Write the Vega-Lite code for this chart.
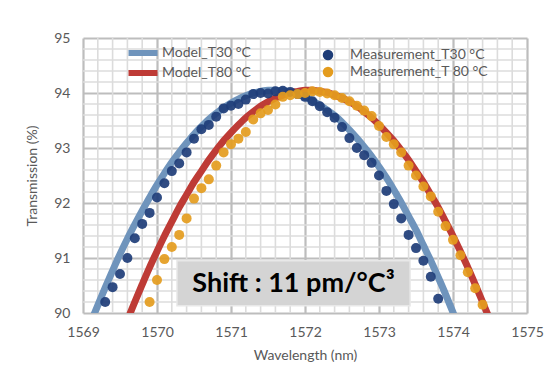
{
  "$schema": "https://vega.github.io/schema/vega-lite/v6.json",
  "width": 444,
  "height": 275,
  "autosize": {"type": "none"},
  "padding": {"left": 83, "top": 38, "right": 28, "bottom": 60},
  "background": "white",
  "config": {
    "font": "Lato",
    "view": {"stroke": null},
    "axis": {"labelFont": "Lato", "titleFont": "Lato", "labelColor": "#595959", "titleColor": "#595959", "labelFontSize": 14, "titleFontSize": 14, "titleFontWeight": "normal"}
  },
  "datasets": {
    "gridx": [
      {"v": 1569.2}, {"v": 1569.4}, {"v": 1569.6}, {"v": 1569.8},
      {"v": 1570.2}, {"v": 1570.4}, {"v": 1570.6}, {"v": 1570.8},
      {"v": 1571.2}, {"v": 1571.4}, {"v": 1571.6}, {"v": 1571.8},
      {"v": 1572.2}, {"v": 1572.4}, {"v": 1572.6}, {"v": 1572.8},
      {"v": 1573.2}, {"v": 1573.4}, {"v": 1573.6}, {"v": 1573.8},
      {"v": 1574.2}, {"v": 1574.4}, {"v": 1574.6}, {"v": 1574.8}
    ],
    "gridy": [
      {"v": 90.2}, {"v": 90.4}, {"v": 90.6}, {"v": 90.8},
      {"v": 91.2}, {"v": 91.4}, {"v": 91.6}, {"v": 91.8},
      {"v": 92.2}, {"v": 92.4}, {"v": 92.6}, {"v": 92.8},
      {"v": 93.2}, {"v": 93.4}, {"v": 93.6}, {"v": 93.8},
      {"v": 94.2}, {"v": 94.4}, {"v": 94.6}, {"v": 94.8}
    ],
    "model": [
      {"series": "Model_T30 °C", "wl": 1569.0, "t": 89.46},
      {"series": "Model_T30 °C", "wl": 1569.1, "t": 89.81},
      {"series": "Model_T30 °C", "wl": 1569.2, "t": 90.14},
      {"series": "Model_T30 °C", "wl": 1569.3, "t": 90.46},
      {"series": "Model_T30 °C", "wl": 1569.4, "t": 90.77},
      {"series": "Model_T30 °C", "wl": 1569.5, "t": 91.07},
      {"series": "Model_T30 °C", "wl": 1569.6, "t": 91.35},
      {"series": "Model_T30 °C", "wl": 1569.7, "t": 91.61},
      {"series": "Model_T30 °C", "wl": 1569.8, "t": 91.86},
      {"series": "Model_T30 °C", "wl": 1569.9, "t": 92.10},
      {"series": "Model_T30 °C", "wl": 1570.0, "t": 92.33},
      {"series": "Model_T30 °C", "wl": 1570.1, "t": 92.54},
      {"series": "Model_T30 °C", "wl": 1570.2, "t": 92.74},
      {"series": "Model_T30 °C", "wl": 1570.3, "t": 92.92},
      {"series": "Model_T30 °C", "wl": 1570.4, "t": 93.09},
      {"series": "Model_T30 °C", "wl": 1570.5, "t": 93.25},
      {"series": "Model_T30 °C", "wl": 1570.6, "t": 93.39},
      {"series": "Model_T30 °C", "wl": 1570.7, "t": 93.52},
      {"series": "Model_T30 °C", "wl": 1570.8, "t": 93.63},
      {"series": "Model_T30 °C", "wl": 1570.9, "t": 93.73},
      {"series": "Model_T30 °C", "wl": 1571.0, "t": 93.82},
      {"series": "Model_T30 °C", "wl": 1571.1, "t": 93.89},
      {"series": "Model_T30 °C", "wl": 1571.2, "t": 93.95},
      {"series": "Model_T30 °C", "wl": 1571.3, "t": 94.00},
      {"series": "Model_T30 °C", "wl": 1571.4, "t": 94.03},
      {"series": "Model_T30 °C", "wl": 1571.5, "t": 94.05},
      {"series": "Model_T30 °C", "wl": 1571.6, "t": 94.05},
      {"series": "Model_T30 °C", "wl": 1571.7, "t": 94.04},
      {"series": "Model_T30 °C", "wl": 1571.8, "t": 94.02},
      {"series": "Model_T30 °C", "wl": 1571.9, "t": 93.98},
      {"series": "Model_T30 °C", "wl": 1572.0, "t": 93.93},
      {"series": "Model_T30 °C", "wl": 1572.1, "t": 93.86},
      {"series": "Model_T30 °C", "wl": 1572.2, "t": 93.78},
      {"series": "Model_T30 °C", "wl": 1572.3, "t": 93.69},
      {"series": "Model_T30 °C", "wl": 1572.4, "t": 93.59},
      {"series": "Model_T30 °C", "wl": 1572.5, "t": 93.47},
      {"series": "Model_T30 °C", "wl": 1572.6, "t": 93.33},
      {"series": "Model_T30 °C", "wl": 1572.7, "t": 93.18},
      {"series": "Model_T30 °C", "wl": 1572.8, "t": 93.02},
      {"series": "Model_T30 °C", "wl": 1572.9, "t": 92.85},
      {"series": "Model_T30 °C", "wl": 1573.0, "t": 92.66},
      {"series": "Model_T30 °C", "wl": 1573.1, "t": 92.46},
      {"series": "Model_T30 °C", "wl": 1573.2, "t": 92.24},
      {"series": "Model_T30 °C", "wl": 1573.3, "t": 92.01},
      {"series": "Model_T30 °C", "wl": 1573.4, "t": 91.76},
      {"series": "Model_T30 °C", "wl": 1573.5, "t": 91.51},
      {"series": "Model_T30 °C", "wl": 1573.6, "t": 91.23},
      {"series": "Model_T30 °C", "wl": 1573.7, "t": 90.95},
      {"series": "Model_T30 °C", "wl": 1573.8, "t": 90.65},
      {"series": "Model_T30 °C", "wl": 1573.9, "t": 90.34},
      {"series": "Model_T30 °C", "wl": 1574.0, "t": 90.01},
      {"series": "Model_T30 °C", "wl": 1574.1, "t": 89.67},
      {"series": "Model_T80 °C", "wl": 1569.5, "t": 89.52},
      {"series": "Model_T80 °C", "wl": 1569.6, "t": 89.87},
      {"series": "Model_T80 °C", "wl": 1569.7, "t": 90.20},
      {"series": "Model_T80 °C", "wl": 1569.8, "t": 90.52},
      {"series": "Model_T80 °C", "wl": 1569.9, "t": 90.83},
      {"series": "Model_T80 °C", "wl": 1570.0, "t": 91.12},
      {"series": "Model_T80 °C", "wl": 1570.1, "t": 91.40},
      {"series": "Model_T80 °C", "wl": 1570.2, "t": 91.66},
      {"series": "Model_T80 °C", "wl": 1570.3, "t": 91.92},
      {"series": "Model_T80 °C", "wl": 1570.4, "t": 92.15},
      {"series": "Model_T80 °C", "wl": 1570.5, "t": 92.38},
      {"series": "Model_T80 °C", "wl": 1570.6, "t": 92.58},
      {"series": "Model_T80 °C", "wl": 1570.7, "t": 92.78},
      {"series": "Model_T80 °C", "wl": 1570.8, "t": 92.96},
      {"series": "Model_T80 °C", "wl": 1570.9, "t": 93.13},
      {"series": "Model_T80 °C", "wl": 1571.0, "t": 93.28},
      {"series": "Model_T80 °C", "wl": 1571.1, "t": 93.42},
      {"series": "Model_T80 °C", "wl": 1571.2, "t": 93.55},
      {"series": "Model_T80 °C", "wl": 1571.3, "t": 93.66},
      {"series": "Model_T80 °C", "wl": 1571.4, "t": 93.76},
      {"series": "Model_T80 °C", "wl": 1571.5, "t": 93.84},
      {"series": "Model_T80 °C", "wl": 1571.6, "t": 93.91},
      {"series": "Model_T80 °C", "wl": 1571.7, "t": 93.96},
      {"series": "Model_T80 °C", "wl": 1571.8, "t": 94.01},
      {"series": "Model_T80 °C", "wl": 1571.9, "t": 94.03},
      {"series": "Model_T80 °C", "wl": 1572.0, "t": 94.05},
      {"series": "Model_T80 °C", "wl": 1572.1, "t": 94.05},
      {"series": "Model_T80 °C", "wl": 1572.2, "t": 94.03},
      {"series": "Model_T80 °C", "wl": 1572.3, "t": 94.01},
      {"series": "Model_T80 °C", "wl": 1572.4, "t": 93.96},
      {"series": "Model_T80 °C", "wl": 1572.5, "t": 93.91},
      {"series": "Model_T80 °C", "wl": 1572.6, "t": 93.84},
      {"series": "Model_T80 °C", "wl": 1572.7, "t": 93.76},
      {"series": "Model_T80 °C", "wl": 1572.8, "t": 93.66},
      {"series": "Model_T80 °C", "wl": 1572.9, "t": 93.55},
      {"series": "Model_T80 °C", "wl": 1573.0, "t": 93.42},
      {"series": "Model_T80 °C", "wl": 1573.1, "t": 93.28},
      {"series": "Model_T80 °C", "wl": 1573.2, "t": 93.13},
      {"series": "Model_T80 °C", "wl": 1573.3, "t": 92.96},
      {"series": "Model_T80 °C", "wl": 1573.4, "t": 92.78},
      {"series": "Model_T80 °C", "wl": 1573.5, "t": 92.58},
      {"series": "Model_T80 °C", "wl": 1573.6, "t": 92.38},
      {"series": "Model_T80 °C", "wl": 1573.7, "t": 92.15},
      {"series": "Model_T80 °C", "wl": 1573.8, "t": 91.92},
      {"series": "Model_T80 °C", "wl": 1573.9, "t": 91.66},
      {"series": "Model_T80 °C", "wl": 1574.0, "t": 91.40},
      {"series": "Model_T80 °C", "wl": 1574.1, "t": 91.12},
      {"series": "Model_T80 °C", "wl": 1574.2, "t": 90.83},
      {"series": "Model_T80 °C", "wl": 1574.3, "t": 90.52},
      {"series": "Model_T80 °C", "wl": 1574.4, "t": 90.20},
      {"series": "Model_T80 °C", "wl": 1574.5, "t": 89.87},
      {"series": "Model_T80 °C", "wl": 1574.6, "t": 89.52}
    ],
    "meas": [
      {"series": "Measurement_T30 °C", "wl": 1569.3, "t": 90.2},
      {"series": "Measurement_T30 °C", "wl": 1569.4, "t": 90.47},
      {"series": "Measurement_T30 °C", "wl": 1569.5, "t": 90.71},
      {"series": "Measurement_T30 °C", "wl": 1569.6, "t": 91.0},
      {"series": "Measurement_T30 °C", "wl": 1569.7, "t": 91.36},
      {"series": "Measurement_T30 °C", "wl": 1569.8, "t": 91.62},
      {"series": "Measurement_T30 °C", "wl": 1569.9, "t": 91.82},
      {"series": "Measurement_T30 °C", "wl": 1570.0, "t": 92.1},
      {"series": "Measurement_T30 °C", "wl": 1570.1, "t": 92.36},
      {"series": "Measurement_T30 °C", "wl": 1570.2, "t": 92.58},
      {"series": "Measurement_T30 °C", "wl": 1570.3, "t": 92.72},
      {"series": "Measurement_T30 °C", "wl": 1570.4, "t": 92.92},
      {"series": "Measurement_T30 °C", "wl": 1570.5, "t": 93.17},
      {"series": "Measurement_T30 °C", "wl": 1570.6, "t": 93.34},
      {"series": "Measurement_T30 °C", "wl": 1570.7, "t": 93.42},
      {"series": "Measurement_T30 °C", "wl": 1570.8, "t": 93.57},
      {"series": "Measurement_T30 °C", "wl": 1570.9, "t": 93.72},
      {"series": "Measurement_T30 °C", "wl": 1571.0, "t": 93.77},
      {"series": "Measurement_T30 °C", "wl": 1571.1, "t": 93.80},
      {"series": "Measurement_T30 °C", "wl": 1571.2, "t": 93.88},
      {"series": "Measurement_T30 °C", "wl": 1571.3, "t": 93.98},
      {"series": "Measurement_T30 °C", "wl": 1571.4, "t": 94.0},
      {"series": "Measurement_T30 °C", "wl": 1571.5, "t": 93.99},
      {"series": "Measurement_T30 °C", "wl": 1571.6, "t": 94.03},
      {"series": "Measurement_T30 °C", "wl": 1571.7, "t": 94.04},
      {"series": "Measurement_T30 °C", "wl": 1571.8, "t": 94.02},
      {"series": "Measurement_T30 °C", "wl": 1571.9, "t": 93.98},
      {"series": "Measurement_T30 °C", "wl": 1572.0, "t": 93.93},
      {"series": "Measurement_T30 °C", "wl": 1572.1, "t": 93.85},
      {"series": "Measurement_T30 °C", "wl": 1572.2, "t": 93.76},
      {"series": "Measurement_T30 °C", "wl": 1572.3, "t": 93.65},
      {"series": "Measurement_T30 °C", "wl": 1572.4, "t": 93.55},
      {"series": "Measurement_T30 °C", "wl": 1572.5, "t": 93.38},
      {"series": "Measurement_T30 °C", "wl": 1572.6, "t": 93.18},
      {"series": "Measurement_T30 °C", "wl": 1572.7, "t": 93.0},
      {"series": "Measurement_T30 °C", "wl": 1572.8, "t": 92.87},
      {"series": "Measurement_T30 °C", "wl": 1572.9, "t": 92.73},
      {"series": "Measurement_T30 °C", "wl": 1573.0, "t": 92.5},
      {"series": "Measurement_T30 °C", "wl": 1573.1, "t": 92.22},
      {"series": "Measurement_T30 °C", "wl": 1573.2, "t": 91.98},
      {"series": "Measurement_T30 °C", "wl": 1573.3, "t": 91.72},
      {"series": "Measurement_T30 °C", "wl": 1573.4, "t": 91.42},
      {"series": "Measurement_T30 °C", "wl": 1573.5, "t": 91.18},
      {"series": "Measurement_T30 °C", "wl": 1573.6, "t": 90.95},
      {"series": "Measurement_T30 °C", "wl": 1573.7, "t": 90.66},
      {"series": "Measurement_T30 °C", "wl": 1573.8, "t": 90.26},
      {"series": "Measurement_T 80 °C", "wl": 1569.9, "t": 90.2},
      {"series": "Measurement_T 80 °C", "wl": 1570.0, "t": 90.6},
      {"series": "Measurement_T 80 °C", "wl": 1570.1, "t": 90.98},
      {"series": "Measurement_T 80 °C", "wl": 1570.2, "t": 91.2},
      {"series": "Measurement_T 80 °C", "wl": 1570.3, "t": 91.42},
      {"series": "Measurement_T 80 °C", "wl": 1570.4, "t": 91.72},
      {"series": "Measurement_T 80 °C", "wl": 1570.5, "t": 92.08},
      {"series": "Measurement_T 80 °C", "wl": 1570.6, "t": 92.27},
      {"series": "Measurement_T 80 °C", "wl": 1570.7, "t": 92.43},
      {"series": "Measurement_T 80 °C", "wl": 1570.8, "t": 92.68},
      {"series": "Measurement_T 80 °C", "wl": 1570.9, "t": 92.92},
      {"series": "Measurement_T 80 °C", "wl": 1571.0, "t": 93.07},
      {"series": "Measurement_T 80 °C", "wl": 1571.1, "t": 93.17},
      {"series": "Measurement_T 80 °C", "wl": 1571.2, "t": 93.29},
      {"series": "Measurement_T 80 °C", "wl": 1571.3, "t": 93.52},
      {"series": "Measurement_T 80 °C", "wl": 1571.4, "t": 93.63},
      {"series": "Measurement_T 80 °C", "wl": 1571.5, "t": 93.69},
      {"series": "Measurement_T 80 °C", "wl": 1571.6, "t": 93.79},
      {"series": "Measurement_T 80 °C", "wl": 1571.7, "t": 93.93},
      {"series": "Measurement_T 80 °C", "wl": 1571.8, "t": 93.96},
      {"series": "Measurement_T 80 °C", "wl": 1571.9, "t": 93.98},
      {"series": "Measurement_T 80 °C", "wl": 1572.0, "t": 94.0},
      {"series": "Measurement_T 80 °C", "wl": 1572.1, "t": 94.03},
      {"series": "Measurement_T 80 °C", "wl": 1572.2, "t": 94.02},
      {"series": "Measurement_T 80 °C", "wl": 1572.3, "t": 93.99},
      {"series": "Measurement_T 80 °C", "wl": 1572.4, "t": 93.96},
      {"series": "Measurement_T 80 °C", "wl": 1572.5, "t": 93.91},
      {"series": "Measurement_T 80 °C", "wl": 1572.6, "t": 93.85},
      {"series": "Measurement_T 80 °C", "wl": 1572.7, "t": 93.77},
      {"series": "Measurement_T 80 °C", "wl": 1572.8, "t": 93.68},
      {"series": "Measurement_T 80 °C", "wl": 1572.9, "t": 93.58},
      {"series": "Measurement_T 80 °C", "wl": 1573.0, "t": 93.4},
      {"series": "Measurement_T 80 °C", "wl": 1573.1, "t": 93.2},
      {"series": "Measurement_T 80 °C", "wl": 1573.2, "t": 93.07},
      {"series": "Measurement_T 80 °C", "wl": 1573.3, "t": 92.92},
      {"series": "Measurement_T 80 °C", "wl": 1573.4, "t": 92.68},
      {"series": "Measurement_T 80 °C", "wl": 1573.5, "t": 92.5},
      {"series": "Measurement_T 80 °C", "wl": 1573.6, "t": 92.3},
      {"series": "Measurement_T 80 °C", "wl": 1573.7, "t": 92.12},
      {"series": "Measurement_T 80 °C", "wl": 1573.8, "t": 91.84},
      {"series": "Measurement_T 80 °C", "wl": 1573.9, "t": 91.58},
      {"series": "Measurement_T 80 °C", "wl": 1574.0, "t": 91.33},
      {"series": "Measurement_T 80 °C", "wl": 1574.1, "t": 91.05},
      {"series": "Measurement_T 80 °C", "wl": 1574.2, "t": 90.74},
      {"series": "Measurement_T 80 °C", "wl": 1574.3, "t": 90.45},
      {"series": "Measurement_T 80 °C", "wl": 1574.4, "t": 90.15}
    ],
    "note": [
      {"wl1": 1570.27, "wl2": 1573.42, "t1": 90.13, "t2": 90.95, "wlc": 1571.845, "tc": 90.53, "label": "Shift : 11 pm/°C³"}
    ]
  },
  "layer": [
    {
      "data": {"name": "gridx"},
      "mark": {"type": "rule", "color": "#DCDCDC", "strokeWidth": 1.6},
      "encoding": {
        "x": {
          "field": "v", "type": "quantitative",
          "scale": {"domain": [1569, 1575], "nice": false, "zero": false},
          "axis": {
            "title": "Wavelength (nm)",
            "values": [1569, 1570, 1571, 1572, 1573, 1574, 1575],
            "format": "d",
            "ticks": false, "domain": false, "labelPadding": 12, "titlePadding": 9,
            "labelOverlap": false, "labelFlush": false,
            "grid": true, "gridColor": "#BDBDBD", "gridWidth": 2.2, "gridOpacity": 1
          }
        }
      }
    },
    {
      "data": {"name": "gridy"},
      "mark": {"type": "rule", "color": "#DCDCDC", "strokeWidth": 1.6},
      "encoding": {
        "y": {
          "field": "v", "type": "quantitative",
          "scale": {"domain": [90, 95], "nice": false, "zero": false},
          "axis": {
            "title": "Transmission (%)",
            "values": [90, 91, 92, 93, 94, 95],
            "format": "d",
            "ticks": false, "domain": false, "labelPadding": 13, "titlePadding": 14,
            "labelOverlap": false, "labelFlush": false,
            "grid": true, "gridColor": "#BDBDBD", "gridWidth": 2.2, "gridOpacity": 1
          }
        }
      }
    },
    {
      "data": {"name": "model"},
      "mark": {"type": "line", "strokeWidth": 7, "clip": true, "interpolate": "monotone"},
      "encoding": {
        "x": {"field": "wl", "type": "quantitative"},
        "y": {"field": "t", "type": "quantitative"},
        "stroke": {
          "field": "series", "type": "nominal",
          "scale": {"domain": ["Model_T30 °C", "Model_T80 °C"], "range": ["#6F94BC", "#BE3B36"]},
          "legend": {
            "title": null, "orient": "none", "legendX": 52, "legendY": 7,
            "symbolType": "M-2.9,0H2.9", "symbolSize": 100, "symbolStrokeWidth": 6,
            "labelFont": "Lato", "labelFontSize": 14, "labelColor": "#595959",
            "rowPadding": -4, "labelOffset": 11, "padding": 0
          }
        },
        "detail": {"field": "series"}
      }
    },
    {
      "data": {"name": "meas"},
      "mark": {"type": "circle", "size": 100, "opacity": 0.92},
      "encoding": {
        "x": {"field": "wl", "type": "quantitative"},
        "y": {"field": "t", "type": "quantitative"},
        "fill": {
          "field": "series", "type": "nominal",
          "scale": {"domain": ["Measurement_T30 °C", "Measurement_T 80 °C"], "range": ["#1E3D78", "#E49C1E"]},
          "legend": {
            "title": null, "orient": "none", "legendX": 238, "legendY": 10,
            "symbolType": "circle", "symbolSize": 110, "symbolOpacity": 1,
            "labelFont": "Lato", "labelFontSize": 14, "labelColor": "#595959",
            "rowPadding": 3, "labelOffset": 15, "padding": 0
          }
        }
      }
    },
    {
      "data": {"name": "note"},
      "mark": {"type": "rect", "fill": "#D4D4D4", "stroke": "#E8E8E8", "strokeWidth": 1.5},
      "encoding": {
        "x": {"field": "wl1", "type": "quantitative"},
        "x2": {"field": "wl2"},
        "y": {"field": "t1", "type": "quantitative"},
        "y2": {"field": "t2"}
      }
    },
    {
      "data": {"name": "note"},
      "mark": {"type": "text", "font": "Lato", "fontWeight": "bold", "fontSize": 27, "color": "#000000", "align": "center", "baseline": "middle"},
      "encoding": {
        "x": {"field": "wlc", "type": "quantitative"},
        "y": {"field": "tc", "type": "quantitative"},
        "text": {"field": "label"}
      }
    }
  ],
  "resolve": {"legend": {"stroke": "independent", "fill": "independent"}}
}
